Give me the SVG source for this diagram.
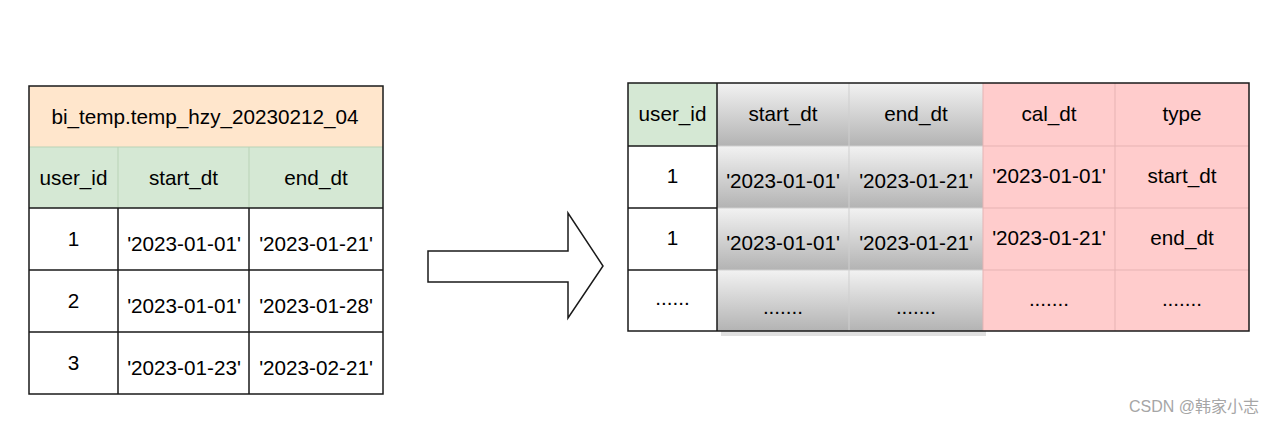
<svg xmlns="http://www.w3.org/2000/svg" width="1280" height="423" viewBox="0 0 1280 423">
  <style>
    text { font-family: "Liberation Sans", Arial, Helvetica, sans-serif; font-size: 20.7px; fill: #000; text-anchor: middle; }
    .wm { font-family: "Liberation Sans", "Noto Sans CJK SC", sans-serif; font-size: 16px; fill: #a6a6a6; text-anchor: start; }
    .dark { stroke: #1a1a1a; stroke-width: 1.5; fill: none; }
    .white { fill: #ffffff; }
    .orange { fill: #ffe6cc; }
    .green { fill: #d5e8d4; }
    .pink { fill: #ffcccc; }
    .gline { stroke: #b9d3b6; stroke-width: 1; }
    .pline { stroke: #e6b3b3; stroke-width: 1; }
    .grayline { stroke: #cfcfcf; stroke-width: 1; }
  </style>
  <defs>
    <linearGradient id="grayGrad" x1="0" y1="0" x2="0" y2="1">
      <stop offset="0" stop-color="#f2f2f2"/>
      <stop offset="1" stop-color="#b3b3b3"/>
    </linearGradient>
  </defs>
  <rect width="1280" height="423" fill="#ffffff"/>

  <!-- Left table -->
  <g id="source-table">
    <rect class="orange" x="29" y="86" width="354" height="61"/>
    <rect class="green" x="29" y="147" width="354" height="61"/>
    <rect class="white" x="29" y="208" width="354" height="186"/>
    <line class="gline" x1="29" y1="147" x2="383" y2="147"/>
    <line class="gline" x1="118" y1="147" x2="118" y2="208"/>
    <line class="gline" x1="249" y1="147" x2="249" y2="208"/>
    <path class="dark" d="M118 208V394M249 208V394M29 208H383M29 270H383M29 332H383"/>
    <rect class="dark" x="29" y="86" width="354" height="308"/>
    <text x="205" y="124">bi_temp.temp_hzy_20230212_04</text>
    <text x="73.5" y="185">user_id</text>
    <text x="183.5" y="185">start_dt</text>
    <text x="316" y="185">end_dt</text>
    <text x="73.5" y="246">1</text>
    <text x="184" y="251">'2023-01-01'</text>
    <text x="316" y="251">'2023-01-21'</text>
    <text x="73.5" y="308">2</text>
    <text x="184" y="313">'2023-01-01'</text>
    <text x="316" y="313">'2023-01-28'</text>
    <text x="73.5" y="370">3</text>
    <text x="184" y="375">'2023-01-23'</text>
    <text x="316" y="375">'2023-02-21'</text>
  </g>

  <!-- Connector -->
  <g id="connectors">
    <polygon points="428,251 568,251 568,213 603,266 568,318 568,282 428,282" fill="#ffffff" stroke="#1a1a1a" stroke-width="1.5" stroke-linejoin="miter"/>
  </g>

  <!-- Right table -->
  <g id="result-table">
    <!-- shadow under gray columns -->
    <rect x="721" y="86" width="265" height="250" fill="#000" opacity="0.12"/>
    <!-- user_id column -->
    <rect class="green" x="628" y="83" width="89" height="63"/>
    <rect class="white" x="628" y="146" width="89" height="185"/>
    <!-- gray columns -->
    <rect x="717" y="83" width="132" height="63" fill="url(#grayGrad)"/>
    <rect x="849" y="83" width="134" height="63" fill="url(#grayGrad)"/>
    <rect x="717" y="146" width="132" height="62" fill="url(#grayGrad)"/>
    <rect x="849" y="146" width="134" height="62" fill="url(#grayGrad)"/>
    <rect x="717" y="208" width="132" height="62" fill="url(#grayGrad)"/>
    <rect x="849" y="208" width="134" height="62" fill="url(#grayGrad)"/>
    <rect x="717" y="270" width="132" height="61" fill="url(#grayGrad)"/>
    <rect x="849" y="270" width="134" height="61" fill="url(#grayGrad)"/>
    <path class="grayline" d="M849 83V331M717 146H983M717 208H983M717 270H983"/>
    <!-- pink columns -->
    <rect class="pink" x="983" y="83" width="266" height="248"/>
    <path class="pline" d="M983 83V331M1115 83V331M983 146H1249M983 208H1249M983 270H1249"/>
    <!-- dark borders -->
    <path class="dark" d="M717 83V331M628 146H717M628 208H717M628 270H717"/>
    <rect class="dark" x="628" y="83" width="621" height="248"/>
    <!-- header texts -->
    <text x="672.5" y="121">user_id</text>
    <text x="783" y="121">start_dt</text>
    <text x="916" y="121">end_dt</text>
    <text x="1049" y="121">cal_dt</text>
    <text x="1182" y="121">type</text>
    <!-- row 1 -->
    <text x="672.5" y="183">1</text>
    <text x="783" y="188">'2023-01-01'</text>
    <text x="916" y="188">'2023-01-21'</text>
    <text x="1049" y="183">'2023-01-01'</text>
    <text x="1182" y="183">start_dt</text>
    <!-- row 2 -->
    <text x="672.5" y="245">1</text>
    <text x="783" y="250">'2023-01-01'</text>
    <text x="916" y="250">'2023-01-21'</text>
    <text x="1049" y="245">'2023-01-21'</text>
    <text x="1182" y="245">end_dt</text>
    <!-- row 3 -->
    <text x="672.5" y="305">......</text>
    <text x="783" y="314">.......</text>
    <text x="916" y="314">.......</text>
    <text x="1049" y="306">.......</text>
    <text x="1182" y="306">.......</text>
  </g>

  <text class="wm" x="1129" y="412">CSDN @韩家小志</text>
</svg>
